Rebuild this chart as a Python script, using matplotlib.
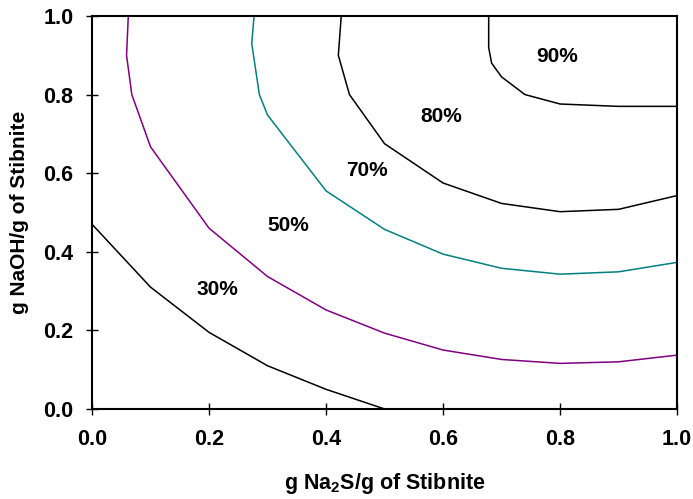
import matplotlib
matplotlib.use('Agg')
import matplotlib.pyplot as plt

plt.rcParams['font.family'] = ['Liberation Sans', 'DejaVu Sans']
plt.rcParams['font.weight'] = 'bold'
plt.rcParams['mathtext.fontset'] = 'custom'
plt.rcParams['mathtext.rm'] = 'Liberation Sans:bold'
plt.rcParams['mathtext.it'] = 'Liberation Sans:bold'
plt.rcParams['mathtext.bf'] = 'Liberation Sans:bold'

# contour lines (x = g Na2S/g, y = g NaOH/g)
x30 = [0.0, 0.1, 0.2, 0.3, 0.4, 0.5]
y30 = [0.47, 0.31, 0.195, 0.11, 0.05, 0.0]

x50 = [0.062, 0.059, 0.068, 0.1, 0.2, 0.3, 0.4, 0.5, 0.6, 0.7, 0.8, 0.9, 1.0]
y50 = [1.0, 0.9, 0.8, 0.667, 0.46, 0.337, 0.252, 0.193, 0.15, 0.126, 0.116, 0.12, 0.137]

x70 = [0.277, 0.273, 0.286, 0.3, 0.4, 0.5, 0.6, 0.7, 0.8, 0.9, 1.0]
y70 = [1.0, 0.93, 0.8, 0.748, 0.555, 0.457, 0.394, 0.358, 0.343, 0.349, 0.373]

x80 = [0.426, 0.421, 0.44, 0.5, 0.6, 0.7, 0.8, 0.9, 1.0]
y80 = [1.0, 0.9, 0.8, 0.675, 0.575, 0.523, 0.502, 0.508, 0.543]

x90 = [0.678, 0.678, 0.683, 0.7, 0.74, 0.8, 0.9, 1.0]
y90 = [1.0, 0.92, 0.88, 0.845, 0.8, 0.776, 0.77, 0.77]

labels = ['30%', '50%', '70%', '80%', '90%']
label_x = [0.214, 0.335, 0.47, 0.597, 0.795]
label_y = [0.303, 0.468, 0.606, 0.743, 0.896]

fig = plt.figure(figsize=(6.93, 4.99), dpi=100)
ax = fig.add_axes([0.1328, 0.1804, 0.8442, 0.7876])

ax.plot(x30, y30, color='black', lw=1.1)
ax.plot(x50, y50, color='#800080', lw=1.1)
ax.plot(x70, y70, color='#008080', lw=1.1)
ax.plot(x80, y80, color='black', lw=1.1)
ax.plot(x90, y90, color='black', lw=1.1)

for t, lx, ly in zip(labels, label_x, label_y):
    ax.text(lx, ly, t, ha='center', va='center', fontsize=15, fontweight='bold')

ax.set_xlim(0, 1)
ax.set_ylim(0, 1)
ax.set_xticks([0, 0.2, 0.4, 0.6, 0.8, 1.0])
ax.set_yticks([0, 0.2, 0.4, 0.6, 0.8, 1.0])
ax.xaxis.set_major_formatter(matplotlib.ticker.FormatStrFormatter('%.1f'))
ax.yaxis.set_major_formatter(matplotlib.ticker.FormatStrFormatter('%.1f'))
ax.tick_params(axis='x', direction='inout', length=9, width=1, labelsize=15.5, pad=10)
ax.tick_params(axis='y', direction='inout', length=9, width=1, labelsize=15.5, pad=9)
for s in ax.spines.values():
    s.set_linewidth(1.5)

ax.set_xlabel('g Na$_2$S/g of Stibnite', fontsize=15.5, fontweight='bold', labelpad=15)
ax.set_ylabel('g NaOH/g of Stibnite', fontsize=15, fontweight='bold', labelpad=10)

fig.savefig('out.png', dpi=100)
